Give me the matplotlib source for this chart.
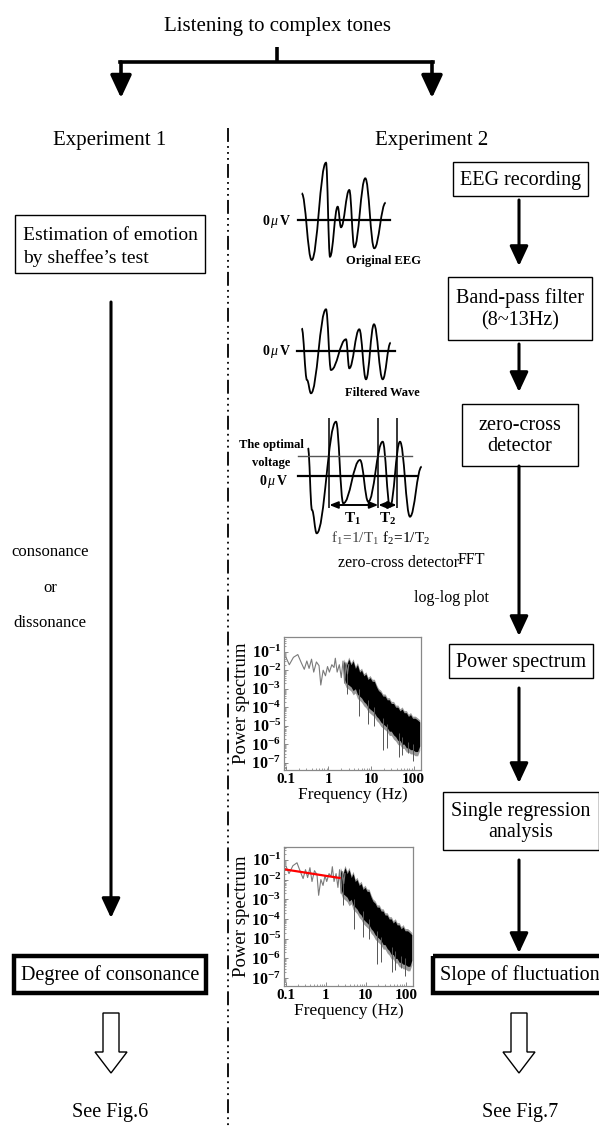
import numpy as np
import matplotlib
matplotlib.use("Agg")
import matplotlib.pyplot as plt
from matplotlib.path import Path
from matplotlib.patches import PathPatch, Rectangle, FancyArrow
from matplotlib.lines import Line2D
from matplotlib.ticker import LogLocator, NullFormatter

# ---------------- data / texts ----------------
title_text = "Listening to complex tones"
experiment_labels = ["Experiment 1", "Experiment 2"]
left_box_lines = ["Estimation of emotion", "by sheffee\u2019s test"]
left_middle_words = ["consonance", "or", "dissonance"]
right_steps = ["EEG recording", "Band-pass filter\n(8~13Hz)", "zero-cross\ndetector",
               "Power spectrum", "Single regression\nanalysis"]
results = ["Degree of consonance", "Slope of fluctuation"]
see_figs = ["See Fig.6", "See Fig.7"]

# illustrative EEG waves (time, amplitude relative to 0 uV)
wave1_t = [6.7, 16.7, 31.0, 35.0, 42.7, 46.0, 54.3, 59.3, 70.3, 79.3, 90.7]
wave1_v = [26.7, -40.0, 57.3, -36.7, 13.3, -7.3, 30.0, -27.3, 41.7, -28.3, 17.3]
wave2_t = [6.7, 12.0, 16.0, 31.0, 36.0, 51.0, 54.3, 64.3, 71.0, 79.0, 87.7, 95.7]
wave2_v = [22.7, -29.0, -42.3, 41.7, -19.0, 11.7, -17.3, 21.7, -28.3, 26.7, -28.3, 8.3]
wave3_t = [13.0, 17.0, 21.7, 41.0, 48.3, 65.0, 73.3, 87.7, 95.0, 105.0, 115.0, 126.7]
wave3_v = [28.0, -34.0, -57.3, 54.3, -27.3, 16.0, -25.7, 34.3, -30.7, 34.3, -40.7, 9.3]
optimal_voltage = 20.0
crossing_t = [34.3, 83.3, 101.7]

# power spectrum (log10 of power)
low_freq = [0.10, 0.12, 0.15, 0.19, 0.23, 0.27, 0.31, 0.35, 0.40, 0.45, 0.52, 0.60,
            0.66, 0.75, 0.85, 0.95, 1.05, 1.2, 1.35, 1.45, 1.6, 1.8, 2.0, 2.2, 2.4, 2.6, 2.8, 3.0]
low_logp = [-1.3, -1.7, -1.3, -1.15, -1.6, -1.95, -1.5, -1.9, -1.4, -2.1, -1.55, -1.75,
            -2.8, -2.0, -2.3, -1.8, -2.1, -1.7, -1.85, -1.35, -2.1, -1.7, -2.4, -1.5, -2.7, -1.6, -2.2, -1.7]
band_freq = [2.3, 2.6, 3.0, 3.4, 3.8, 4.3, 4.8, 5.4, 6.0, 6.8, 7.6, 8.5, 9.5, 10.7, 12, 13.5,
             15, 17, 19, 21.5, 24, 27, 30, 34, 38, 43, 48, 54, 60, 68, 76, 85, 95, 110, 125, 140]
band_upper = [-1.5, -1.8, -1.4, -1.7, -1.5, -1.9, -1.7, -2.1, -2.0, -2.3, -2.2, -2.5, -2.4, -2.6,
              -2.6, -2.9, -3.1, -3.2, -3.4, -3.4, -3.6, -3.6, -3.8, -3.8, -4.0, -4.0, -4.2, -4.1,
              -4.3, -4.3, -4.5, -4.4, -4.6, -4.6, -4.7, -4.8]
band_lower = [-2.4, -2.7, -2.8, -2.9, -3.1, -3.0, -3.3, -3.4, -3.5, -3.7, -3.8, -4.0, -4.1, -4.2,
              -4.3, -4.5, -4.6, -4.8, -4.9, -5.0, -5.1, -5.3, -5.3, -5.5, -5.6, -5.8, -5.8, -6.0,
              -6.0, -6.2, -6.2, -6.3, -6.3, -6.4, -6.4, -6.1]
spike_freq = [2.7, 5.1, 8.5, 12.0, 19.0, 24.0, 45.0, 53.0, 75.0, 95.0]
spike_low = [-3.3, -4.5, -4.9, -5.0, -6.3, -6.2, -6.7, -6.6, -6.5, -6.9]
spike_top = [-2.0, -3.0, -3.6, -4.0, -4.6, -4.9, -5.4, -5.6, -5.9, -6.0]
reg_freq = [0.1, 2.2]
reg_power = [3.2e-2, 1.2e-2]

freq_ticks = [0.1, 1, 10, 100]
freq_tick_labels = ["0.1", "1", "10", "100"]
power_exponents = [-1, -2, -3, -4, -5, -6, -7]

# ---------------- style ----------------
plt.rcParams["font.family"] = ["Liberation Serif", "DejaVu Serif"]
plt.rcParams["mathtext.fontset"] = "custom"
plt.rcParams["mathtext.rm"] = "Liberation Serif"
plt.rcParams["mathtext.it"] = "Liberation Serif:italic"
plt.rcParams["mathtext.bf"] = "Liberation Serif:bold"
plt.rcParams["lines.scale_dashes"] = False

W, H = 599, 1127
fig = plt.figure(figsize=(W / 100, H / 100), dpi=100)
ax = fig.add_axes([0, 0, 1, 1])
ax.set_xlim(0, W)
ax.set_ylim(H, 0)
ax.axis("off")


def arrow(x, y0, y1, lw=2.2, ms=20):
    ax.annotate("", xy=(x, y1), xytext=(x, y0),
                arrowprops=dict(arrowstyle="-|>,head_length=0.6,head_width=0.28",
                                lw=lw, color="black", shrinkA=0, shrinkB=0,
                                mutation_scale=ms))


def box(x0, y0, x1, y1, lw=1.0):
    ax.add_patch(Rectangle((x0, y0), x1 - x0, y1 - y0, fill=False, ec="black", lw=lw))


def hollow_arrow(x, y0, y1):
    ax.add_patch(FancyArrow(x, y0, 0, y1 - y0, width=16, head_width=32, head_length=21,
                            length_includes_head=True, fc="white", ec="black", lw=1.0))


# ---------------- top ----------------
ax.text(277, 27, title_text, ha="center", va="center", fontsize=15)
ax.plot([277, 277], [47, 63], color="black", lw=2.6, solid_capstyle="butt")
ax.plot([120, 433], [62, 62], color="black", lw=2.6, solid_capstyle="projecting")
arrow(121, 62, 98, lw=2.6, ms=23)
arrow(432, 62, 98, lw=2.6, ms=23)
ax.text(110, 140, experiment_labels[0], ha="center", va="center", fontsize=15)
ax.text(432, 140, experiment_labels[1], ha="center", va="center", fontsize=15)

# divider
ax.add_line(Line2D([228, 228], [128, 1127], color="black", lw=1.3,
                   dashes=(10, 3, 1.3, 3, 1.3, 3, 1.3, 3)))

# ---------------- left column ----------------
box(15, 215, 205, 273)
ax.text(23, 236, left_box_lines[0], ha="left", va="center", fontsize=14)
ax.text(23, 258, left_box_lines[1], ha="left", va="center", fontsize=14)
arrow(111, 302, 918, lw=2.2)
for word, yy in zip(left_middle_words, [552, 588, 623]):
    ax.text(50, yy, word, ha="center", va="center", fontsize=12)
box(14, 956, 206, 993, lw=3.2)
ax.text(110, 975, results[0], ha="center", va="center", fontsize=14.5)
hollow_arrow(111, 1013, 1073)
ax.text(110, 1112, see_figs[0], ha="center", va="center", fontsize=14.5)

# ---------------- right column ----------------
right_boxes = [(453, 162, 588, 196), (448, 277, 592, 340), (462, 404, 578, 466),
               (449, 644, 593, 678), (443, 792, 599, 850)]
for (x0, y0, x1, y1), label in zip(right_boxes, right_steps):
    box(x0, y0, x1, y1)
    ax.text((x0 + x1) / 2, (y0 + y1) / 2 + 1, label, ha="center", va="center",
            fontsize=14.5, linespacing=1.2)
arrow(519, 200, 266)
arrow(519, 344, 392)
arrow(519, 466, 636)
arrow(519, 688, 783)
arrow(519, 860, 953)
box(433, 956, 610, 993, lw=3.2)
ax.text(520, 975, results[1], ha="center", va="center", fontsize=14.5)
hollow_arrow(519, 1013, 1073)
ax.text(520, 1112, see_figs[1], ha="center", va="center", fontsize=14.5)


# ---------------- middle: waves ----------------
def wave_axes(px0, py0, px1, py1, base_y):
    wa = fig.add_axes([px0 / W, 1 - py1 / H, (px1 - px0) / W, (py1 - py0) / H])
    wa.set_xlim(0, px1 - px0)
    wa.set_ylim(base_y - py1, base_y - py0)
    wa.axis("off")
    return wa


def smooth_wave(wa, t, v, lw=1.3):
    verts = [(t[0], v[0])]
    codes = [Path.MOVETO]
    for i in range(len(t) - 1):
        d = t[i + 1] - t[i]
        verts += [(t[i] + 0.4 * d, v[i]), (t[i + 1] - 0.4 * d, v[i + 1]), (t[i + 1], v[i + 1])]
        codes += [Path.CURVE4] * 3
    wa.add_patch(PathPatch(Path(verts, codes), fill=False, ec="black", lw=lw))


w1 = wave_axes(295, 150, 400, 275, 220)
w1.plot([3, 95], [0, 0], color="black", lw=1.6)
smooth_wave(w1, wave1_t, wave1_v)
ax.text(277, 221, "0$\\,\\mu\\,$V", ha="center", va="center", fontsize=10, fontweight="bold")
ax.text(383, 261, "Original EEG", ha="center", va="center", fontsize=9, fontweight="bold")

w2 = wave_axes(295, 300, 400, 400, 351)
w2.plot([2, 100], [0, 0], color="black", lw=1.6)
smooth_wave(w2, wave2_t, wave2_v)
ax.text(277, 352, "0$\\,\\mu\\,$V", ha="center", va="center", fontsize=10, fontweight="bold")
ax.text(382, 393, "Filtered Wave", ha="center", va="center", fontsize=9, fontweight="bold")

w3 = wave_axes(295, 412, 425, 540, 476)
w3.plot([3, 117], [optimal_voltage, optimal_voltage], color="#555555", lw=1.0)
w3.plot([3, 122], [0, 0], color="black", lw=1.6)
smooth_wave(w3, wave3_t, wave3_v)
w3.vlines(crossing_t, -32, 58, color="black", lw=1.1)
for a, b in zip(crossing_t[:-1], crossing_t[1:]):
    w3.annotate("", xy=(b, -29), xytext=(a, -29),
                arrowprops=dict(arrowstyle="<|-|>,head_length=0.5,head_width=0.2",
                                lw=1.4, color="black", shrinkA=0, shrinkB=0, mutation_scale=10))
ax.text(271, 445, "The optimal", ha="center", va="center", fontsize=9, fontweight="bold")
ax.text(271, 463, "voltage", ha="center", va="center", fontsize=9, fontweight="bold")
ax.text(274, 482, "0$\\,\\mu\\,$V", ha="center", va="center", fontsize=10, fontweight="bold")
ax.text(353, 519, "$\\mathbf{T_1}$", ha="center", va="center", fontsize=11)
ax.text(388, 519, "$\\mathbf{T_2}$", ha="center", va="center", fontsize=11)
ax.text(355, 538, "$\\mathrm{f_1\\!=\\!1/T_1}$", ha="center", va="center", fontsize=11, color="#444444")
ax.text(406, 538, "$\\mathrm{f_2\\!=\\!1/T_2}$", ha="center", va="center", fontsize=11)
ax.text(338, 563, "zero-cross detector", ha="left", va="center", fontsize=11.5)
ax.text(458, 560, "FFT", ha="left", va="center", fontsize=11.5)
ax.text(414, 598, "log-log plot", ha="left", va="center", fontsize=11.5)


# ---------------- middle: spectra ----------------
def spectrum(px0, py0, px1, py1, ylim_log, with_reg):
    sa = fig.add_axes([px0 / W, 1 - py1 / H, (px1 - px0) / W, (py1 - py0) / H])
    sa.set_xscale("log")
    sa.set_yscale("log")
    up = 10.0 ** np.array(band_upper)
    lo = 10.0 ** np.array(band_lower)
    sa.fill_between(band_freq, lo / 1.7, up * 1.3, color="#9a9a9a", lw=0)
    sa.fill_between(band_freq, lo, up, color="black", lw=0)
    sa.vlines(spike_freq, 10.0 ** np.array(spike_low), 10.0 ** np.array(spike_top),
              color="#555555", lw=0.7)
    sa.plot(low_freq, 10.0 ** np.array(low_logp), color="#7a7a7a", lw=0.8)
    if with_reg:
        sa.plot(reg_freq, reg_power, color="red", lw=1.6)
    sa.set_xlim(0.09, 150)
    sa.set_ylim(10.0 ** ylim_log[0], 10.0 ** ylim_log[1])
    sa.set_xticks(freq_ticks)
    sa.set_xticklabels(freq_tick_labels, fontweight="bold", fontsize=11)
    sa.set_yticks([10.0 ** e for e in power_exponents])
    sa.set_yticklabels(["$\\mathbf{10^{%d}}$" % e for e in power_exponents], fontsize=11.5)
    sa.xaxis.set_minor_locator(LogLocator(base=10, subs=np.arange(2, 10), numticks=20))
    sa.yaxis.set_minor_locator(LogLocator(base=10, subs=np.arange(2, 10), numticks=20))
    sa.xaxis.set_minor_formatter(NullFormatter())
    sa.yaxis.set_minor_formatter(NullFormatter())
    sa.tick_params(which="major", direction="in", length=3, width=0.6, color="#777777", pad=2)
    sa.tick_params(which="minor", direction="in", length=1.5, width=0.5, color="#777777")
    for s in sa.spines.values():
        s.set_color("#888888")
        s.set_linewidth(0.9)
    sa.set_ylabel("Power spectrum", fontsize=13.5, labelpad=1)
    sa.set_xlabel("Frequency (Hz)", fontsize=12.5, labelpad=1)
    return sa


spectrum(284, 637, 421, 770, (-7.4, -0.2), False)
spectrum(284, 847, 413, 986, (-7.4, -0.35), True)

fig.savefig("out.png", dpi=100)
